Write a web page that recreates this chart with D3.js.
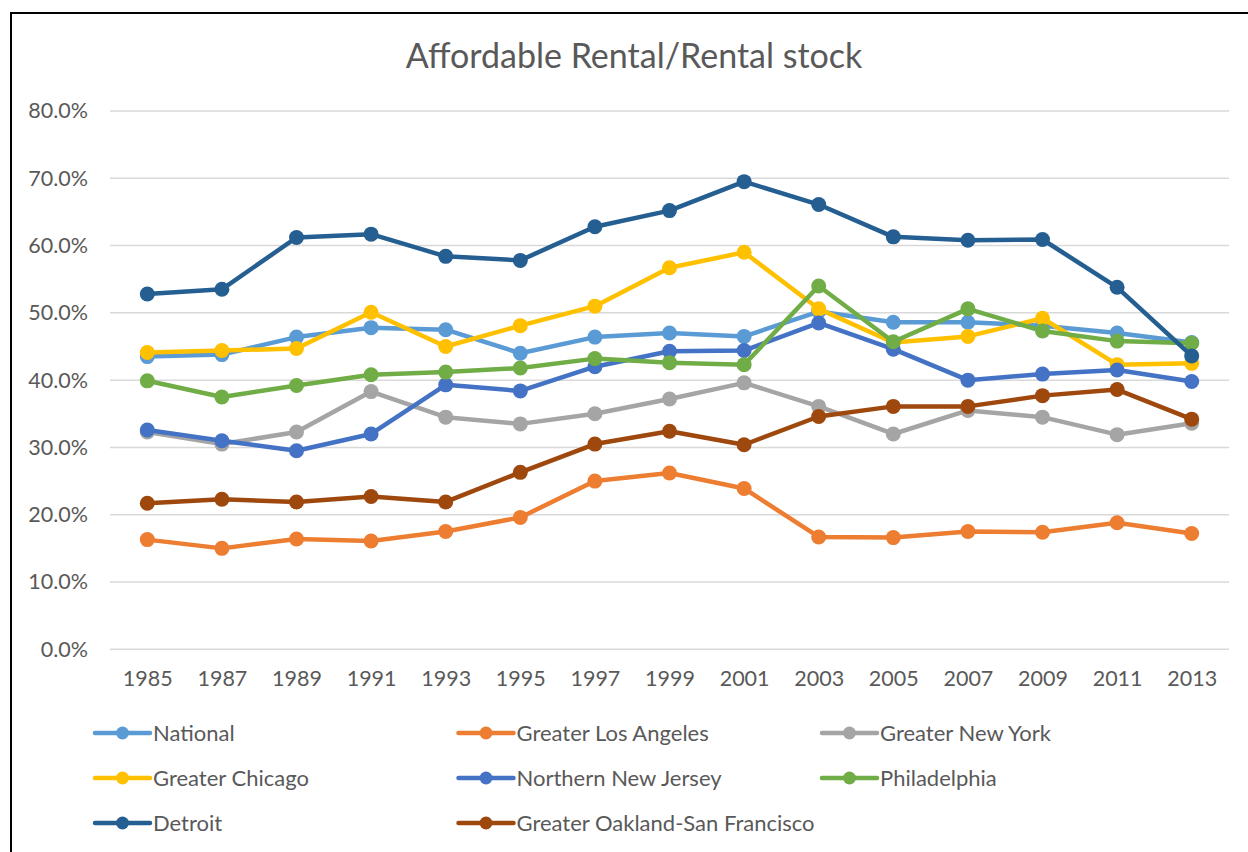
<!DOCTYPE html>
<html>
<head>
<meta charset="utf-8">
<script src="https://cdn.jsdelivr.net/npm/d3@7"></script>
<style>
  body { margin: 0; background: #fff; }
  svg { display: block; }
  text { font-family: Lato, "Open Sans", sans-serif; fill: #595959; }
</style>
</head>
<body>
<svg id="chart" width="1248" height="852"></svg>
<script>
// categories (survey years)
var years = ["1985","1987","1989","1991","1993","1995","1997","1999","2001","2003","2005","2007","2009","2011","2013"];

// series values, in percent
var national = [43.5, 43.8, 46.4, 47.8, 47.5, 44.0, 46.4, 47.0, 46.5, 50.2, 48.6, 48.6, 48.1, 47.0, 45.6];
var losAngeles = [16.3, 15.0, 16.4, 16.1, 17.5, 19.6, 25.0, 26.2, 23.9, 16.7, 16.6, 17.5, 17.4, 18.8, 17.2];
var newYork = [32.3, 30.5, 32.3, 38.3, 34.5, 33.5, 35.0, 37.2, 39.6, 36.1, 32.0, 35.5, 34.5, 31.9, 33.6];
var chicago = [44.1, 44.4, 44.7, 50.1, 45.0, 48.1, 51.0, 56.7, 59.0, 50.6, 45.6, 46.5, 49.2, 42.3, 42.5];
var newJersey = [32.6, 31.0, 29.5, 32.0, 39.3, 38.4, 42.0, 44.3, 44.4, 48.5, 44.6, 40.0, 40.9, 41.5, 39.8];
var philadelphia = [39.9, 37.5, 39.2, 40.8, 41.2, 41.8, 43.2, 42.6, 42.3, 54.0, 45.7, 50.6, 47.3, 45.8, 45.5];
var detroit = [52.8, 53.5, 61.2, 61.7, 58.4, 57.8, 62.8, 65.2, 69.5, 66.1, 61.3, 60.8, 60.9, 53.8, 43.6];
var oakland = [21.7, 22.3, 21.9, 22.7, 21.9, 26.3, 30.5, 32.4, 30.4, 34.6, 36.1, 36.1, 37.7, 38.6, 34.2];

var seriesNames = ["National", "Greater Los Angeles", "Greater New York", "Greater Chicago",
                   "Northern New Jersey", "Philadelphia", "Detroit", "Greater Oakland-San Francisco"];
var seriesValues = [national, losAngeles, newYork, chicago, newJersey, philadelphia, detroit, oakland];
var seriesColors = ["#5B9BD5", "#ED7D31", "#A5A5A5", "#FFC000", "#4472C4", "#70AD47", "#255E91", "#9E480E"];

// y ticks
var yTicks = [0, 10, 20, 30, 40, 50, 60, 70, 80];

var svg = d3.select("#chart");

// chart frame (cropped, only top and left edges show)
svg.append("rect")
    .attr("x", 11)
    .attr("y", 13)
    .attr("width", 1300)
    .attr("height", 900)
    .attr("fill", "#fff")
    .attr("stroke", "#000")
    .attr("stroke-width", 2);

var plot = { left: 110, right: 1229, top: 111, bottom: 649.3 };

var x = d3.scalePoint()
    .domain(years)
    .range([plot.left, plot.right])
    .padding(0.5);

var y = d3.scaleLinear()
    .domain([0, 80])
    .range([plot.bottom, plot.top]);

// title
svg.append("text")
    .attr("x", 634)
    .attr("y", 68)
    .attr("text-anchor", "middle")
    .style("font-size", "34px")
    .text("Affordable Rental/Rental stock");

// gridlines
svg.append("g")
    .selectAll("line")
    .data(yTicks)
    .enter()
    .append("line")
    .attr("x1", plot.left)
    .attr("x2", plot.right)
    .attr("y1", function(d) { return y(d); })
    .attr("y2", function(d) { return y(d); })
    .attr("stroke", "#D9D9D9")
    .attr("stroke-width", 1.5);

// y axis labels
var yAxis = d3.axisLeft(y)
    .tickValues(yTicks)
    .tickSize(0)
    .tickPadding(0)
    .tickFormat(function(d) { return d.toFixed(1) + "%"; });

var gy = svg.append("g")
    .attr("transform", "translate(88,0)")
    .call(yAxis);
gy.select(".domain").remove();
gy.selectAll("text")
    .style("font-size", "21.5px")
    .style("font-family", "Lato, 'Open Sans', sans-serif")
    .attr("fill", "#595959");

// x axis labels
var xAxis = d3.axisBottom(x).tickSize(0).tickPadding(0);
var gx = svg.append("g")
    .attr("transform", "translate(0,671)")
    .call(xAxis);
gx.select(".domain").remove();
gx.selectAll("text")
    .style("font-size", "21.5px")
    .style("font-family", "Lato, 'Open Sans', sans-serif")
    .attr("fill", "#595959");

// lines and markers
var line = d3.line()
    .x(function(d, i) { return x(years[i]); })
    .y(function(d) { return y(d); });

seriesValues.forEach(function(vals, s) {
    var g = svg.append("g").attr("class", "series");
    g.append("path")
        .attr("d", line(vals))
        .attr("fill", "none")
        .attr("stroke", seriesColors[s])
        .attr("stroke-width", 4.5)
        .attr("stroke-linejoin", "round")
        .attr("stroke-linecap", "round");
    g.selectAll("circle")
        .data(vals)
        .enter()
        .append("circle")
        .attr("cx", function(d, i) { return x(years[i]); })
        .attr("cy", function(d) { return y(d); })
        .attr("r", 7.5)
        .attr("fill", seriesColors[s]);
});

// legend
var legend = svg.append("g")
    .selectAll("g")
    .data(seriesNames)
    .enter()
    .append("g")
    .attr("transform", function(d, i) {
        return "translate(" + (95 + (i % 3) * 363.5) + "," + (733 + Math.floor(i / 3) * 45) + ")";
    });

legend.append("line")
    .attr("x1", 0)
    .attr("x2", 55)
    .attr("stroke", function(d, i) { return seriesColors[i]; })
    .attr("stroke-width", 4.5)
    .attr("stroke-linecap", "round");

legend.append("circle")
    .attr("cx", 27.5)
    .attr("r", 6.5)
    .attr("fill", function(d, i) { return seriesColors[i]; });

legend.append("text")
    .attr("x", 58)
    .attr("dy", "0.35em")
    .style("font-size", "22px")
    .text(function(d) { return d; });
</script>
</body>
</html>
